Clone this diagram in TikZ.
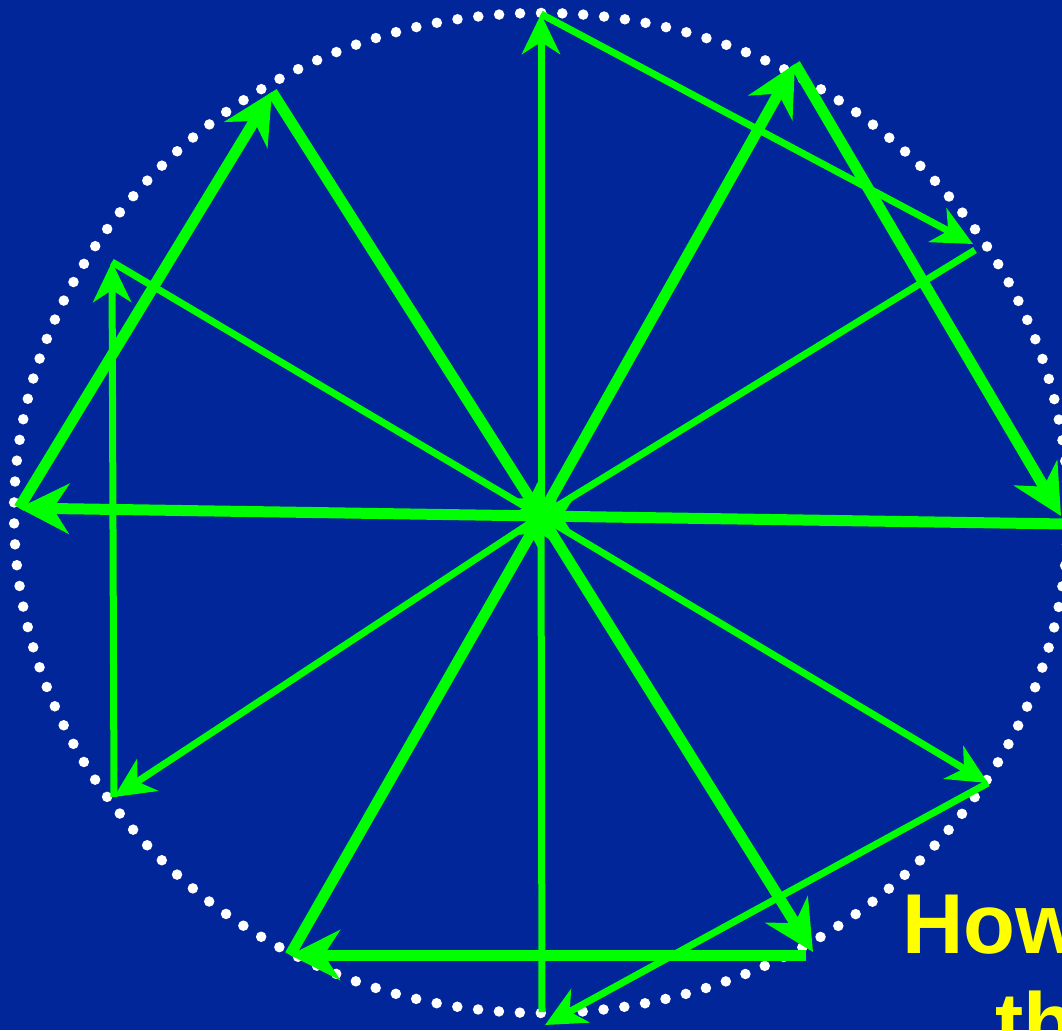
\documentclass[tikz,border=0pt]{standalone}
\usepackage{fontspec}
\setmainfont{Liberation Sans}
\usetikzlibrary{arrows.meta}
\definecolor{bgblue}{RGB}{0,38,153}
\definecolor{lgreen}{RGB}{0,255,0}
\definecolor{tyellow}{RGB}{255,255,0}
\begin{document}
\begin{tikzpicture}[x=1pt,y=-1pt,
  thinedge/.style={draw=lgreen, line width=7pt, -{Stealth[length=40pt,width=38pt,inset=12pt]}},
  thickedge/.style={draw=lgreen, line width=11pt, -{Stealth[length=50pt,width=50pt,inset=16pt]}},
  thinback/.style={draw=lgreen, line width=7pt, -{Stealth[length=26pt,width=26pt,inset=8pt]}},
  thickback/.style={draw=lgreen, line width=11pt, -{Stealth[length=30pt,width=30pt,inset=9pt]}},
  label/.style={anchor=base west, inner sep=0pt, text=tyellow, font=\fontsize{85}{100}\selectfont\bfseries}
]
\useasboundingbox (0,0) rectangle (1062,1030);
\clip (0,0) rectangle (1062,1030);
\fill[bgblue] (0,0) rectangle (1062,1030);
% dotted circle
\draw[white, line width=10.5pt, line cap=round, dash pattern=on 0pt off 20.955pt]
  (541,13) arc[start angle=90, end angle=450, x radius=527pt, y radius=500pt];
% points
\coordinate (C) at (541,516);
\coordinate (L) at (19,508);
\coordinate (R) at (1066,524);
\coordinate (K120) at (272,92);
\coordinate (K60) at (795,64);
\coordinate (K0) at (1061,516);
\coordinate (Km60) at (813,952);
\coordinate (Km60s) at (806,955);
\coordinate (Km120) at (290,955);
\coordinate (T90) at (541,14);
\coordinate (T30) at (973,244);
\coordinate (T30s) at (975,250);
\coordinate (Tm30) at (988,783);
\coordinate (Tm90) at (542,1012);
\coordinate (Tm90a) at (545,1025);
\coordinate (Tm150) at (114,797);
\coordinate (T150) at (112,262);
% thin triangles
\draw[thinedge] (C) -- (T90);
\draw[thinedge] (T90) -- (T30);
\draw[thinback] (T30s) -- (C);
\draw[thinedge] (C) -- (Tm30);
\draw[thinedge] (Tm30) -- (Tm90a);
\draw[thinback] (Tm90) -- (C);
\draw[thinedge] (C) -- (Tm150);
\draw[thinedge] (Tm150) -- (T150);
\draw[thinback] (T150) -- (C);
% thick triangles
\draw[thickedge] (C) -- (L);
\draw[thickedge] (L) -- (K120);
\draw[thickback] (K120) -- (C);
\draw[thickedge] (C) -- (K60);
\draw[thickedge] (K60) -- (K0);
\draw[thickback] (R) -- (C);
\draw[thickedge] (C) -- (Km60);
\draw[thickedge] (Km60s) -- (Km120);
\draw[thickback] (Km120) -- (C);
% text
\node[label] (how) at (902,953) {How};
\node[label] (th) at (995,1052) {th};
\end{tikzpicture}
\end{document}
